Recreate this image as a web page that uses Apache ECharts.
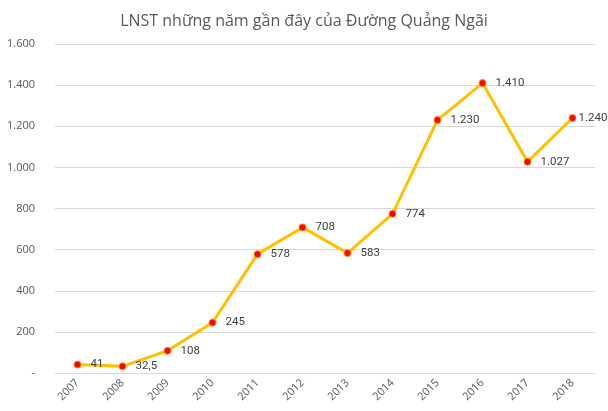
<!DOCTYPE html>
<html><head><meta charset="utf-8">
<script src="https://cdn.jsdelivr.net/npm/echarts@6/dist/echarts.min.js"></script>
<style>html,body{margin:0;padding:0;background:#fff}#c{width:608px;height:411px}</style>
</head><body><div id="c"></div>
<script>
const years = ['2007','2008','2009','2010','2011','2012','2013','2014','2015','2016','2017','2018'];
const profit = [41, 32.5, 108, 245, 578, 708, 583, 774, 1230, 1410, 1027, 1240];
const titleText = 'LNST những năm gần đây của Đường Quảng Ngãi';

function fmt(v){
  if (v === 0) return '-';
  const parts = String(v).split('.');
  const intPart = parts[0].replace(/\B(?=(\d{3})+(?!\d))/g, '.');
  return parts.length > 1 ? intPart + ',' + parts[1] : intPart;
}

const seriesData = profit.map((v, i) => i === profit.length - 1 ? { value: v, label: { distance: 2 } } : v);

const chart = echarts.init(document.getElementById('c'));
chart.setOption({
  animation: false,
  backgroundColor: '#fff',
  title: {
    text: titleText, left: 'center', top: 8,
    textStyle: { fontFamily: 'Open Sans', fontSize: 16, fontWeight: 'normal', color: '#595959' }
  },
  grid: { left: 55, right: 13, top: 44, bottom: 38 },
  xAxis: {
    type: 'category', data: years, boundaryGap: true,
    axisLine: { lineStyle: { color: '#d9d9d9' } },
    axisTick: { show: false },
    axisLabel: { rotate: 45, color: '#595959', fontSize: 11, fontFamily: 'Open Sans', margin: 8 }
  },
  yAxis: {
    type: 'value', min: 0, max: 1600, interval: 200,
    axisLine: { show: false }, axisTick: { show: false },
    splitLine: { lineStyle: { color: '#d9d9d9' } },
    axisLabel: { color: '#595959', fontSize: 11, fontFamily: 'Open Sans', margin: 20, formatter: fmt }
  },
  series: [{
    type: 'line', data: seriesData,
    lineStyle: { color: '#FFC000', width: 3 },
    itemStyle: { color: '#FF0000', borderColor: '#FF9000', borderWidth: 1 },
    symbol: 'circle', symbolSize: 7,
    label: { show: true, position: 'right', distance: 9, color: '#404040', fontSize: 11.5, fontFamily: 'Roboto', formatter: p => fmt(p.value) }
  }]
});
</script></body></html>
